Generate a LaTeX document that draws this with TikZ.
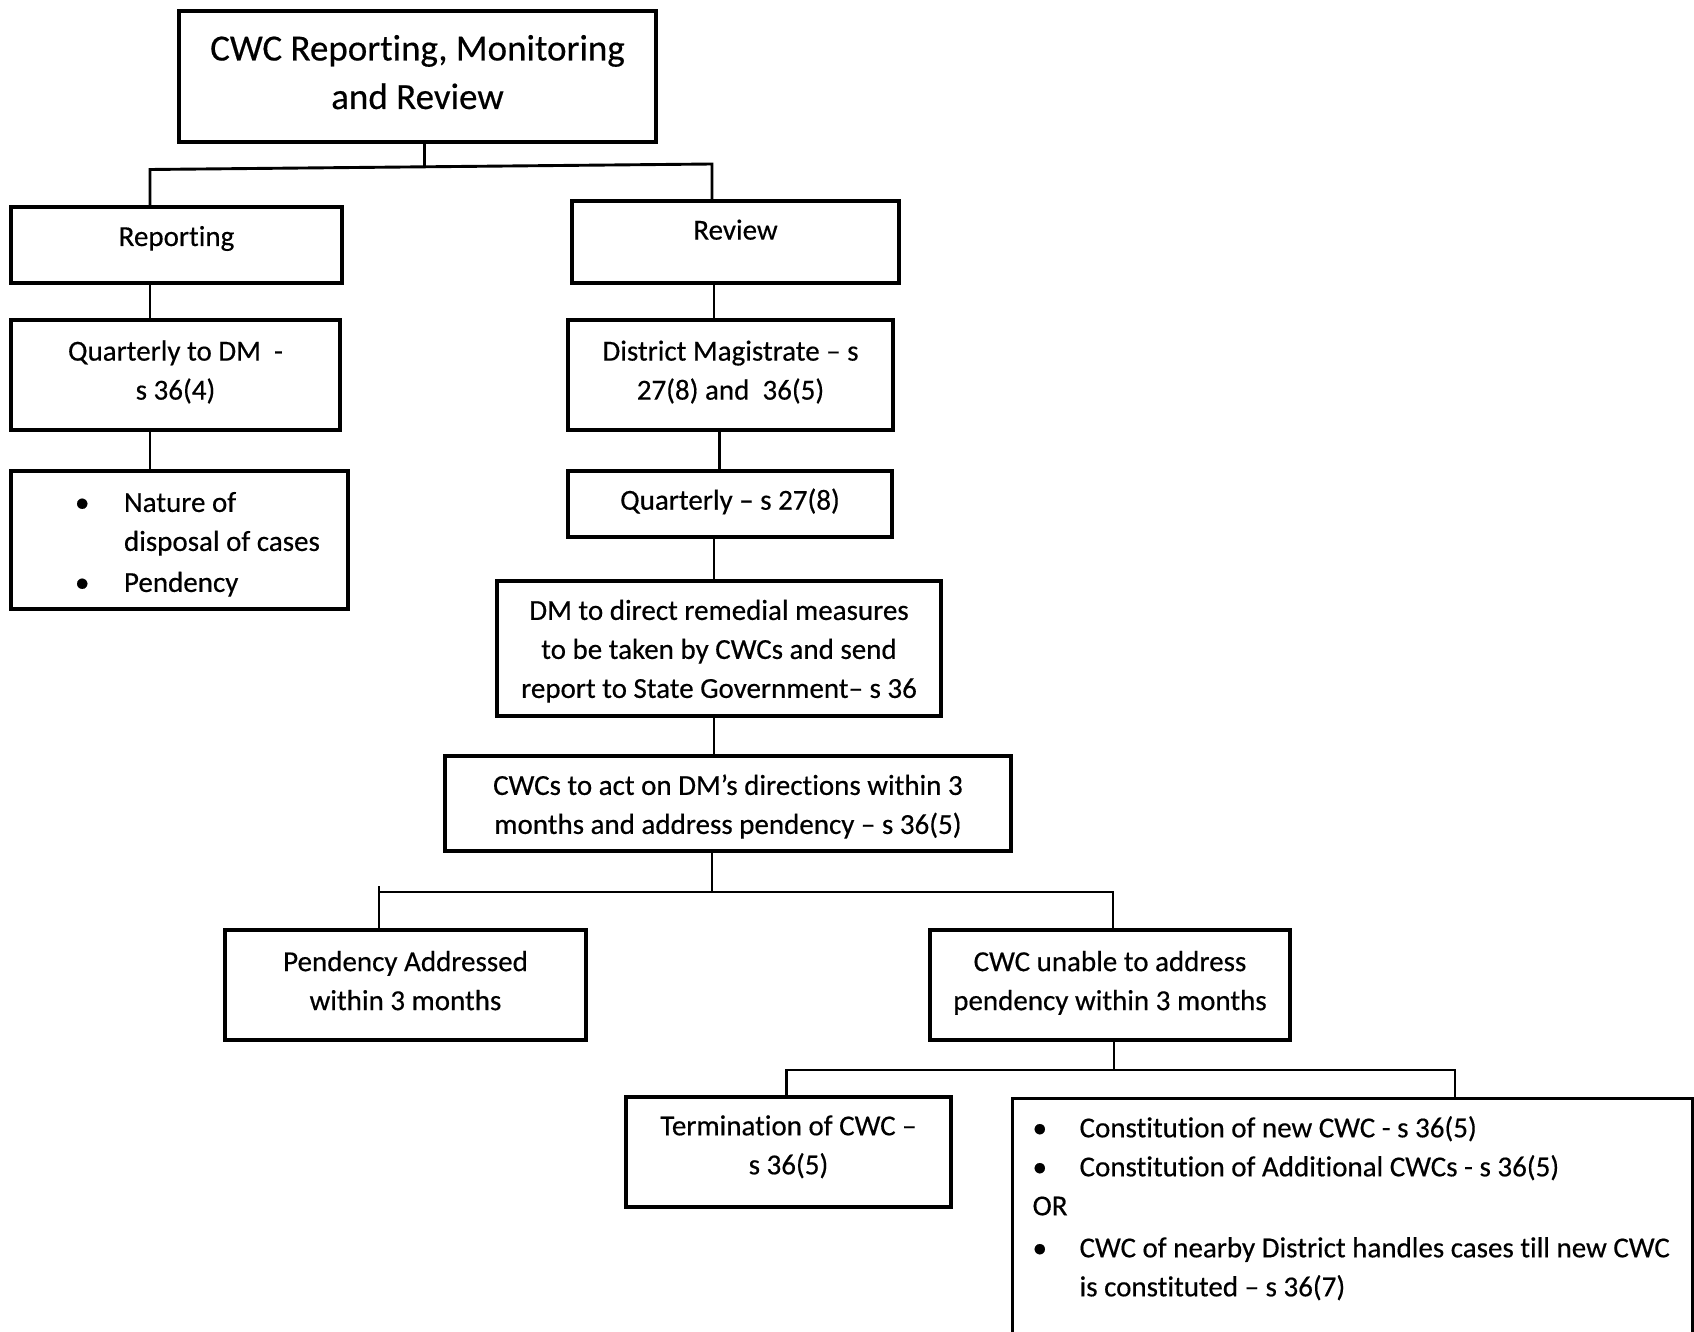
\documentclass[tikz,border=0pt]{standalone}
\usepackage{fontspec}
\setmainfont{Carlito}[FakeBold=0.4, Ligatures={TeX,NoCommon}]
\newcommand\bodyf{\fontsize{29}{39}\selectfont}
\newcommand\titlef{\fontsize{37}{48.5}\selectfont}
\newcommand\bul[1]{\makebox[#1][l]{\textbullet}}
% first-line baseline placed #1 above the node centre
\newcommand\tb[2]{\raisebox{#1}[0pt][0pt]{\begin{tabular}[t]{@{}c@{}}#2\end{tabular}}}
\begin{document}
\begin{tikzpicture}[x=1pt,y=-1pt,
  box/.style={draw, line width=3.2pt, align=center, font=\bodyf, inner sep=0pt},
  conn/.style={line width=2.9pt}]
\useasboundingbox (0,0) rectangle (1694,1332);
\fill[white] (0,0) rectangle (1694,1332);
\clip (0,0) rectangle (1694,1332);

% boxes
\node[box, font=\titlef, minimum width=477, minimum height=131] (title) at (417.5,76.5) {\tb{16pt}{CWC Reporting, Monitoring\\and Review}};
\node[box, minimum width=331, minimum height=76] (rep) at (176.5,245) {\tb{-1pt}{Reporting}};
\node[box, minimum width=327, minimum height=82] (rev) at (735.5,242) {\tb{2.4pt}{Review}};
\node[box, minimum width=329, minimum height=110] (qdm) at (175.5,375) {\tb{14.4pt}{Quarterly to DM\ \ -\\s 36(4)}};
\node[box, minimum width=337, minimum height=138] (bull) at (179.5,540)
  {\makebox[337pt][l]{\hspace*{64pt}\raisebox{28.1pt}[0pt][0pt]{\begin{tabular}[t]{@{}l@{}}\bul{49pt}Nature of\\\hspace*{49pt}disposal of cases\\[2pt]\bul{49pt}Pendency\end{tabular}}}};
\node[box, minimum width=325, minimum height=110] (dm) at (730.5,375) {\tb{14.4pt}{District Magistrate -- s\\27(8) and\ \ 36(5)}};
\node[box, minimum width=324, minimum height=66] (q27) at (730,504) {\tb{-5.7pt}{Quarterly -- s 27(8)}};
\node[box, minimum width=444, minimum height=135] (dmd) at (719,648.5) {\tb{28.6pt}{DM to direct remedial measures\\to be taken by CWCs and send\\report to State Government-- s 36}};
\node[box, minimum width=566, minimum height=95] (act) at (728,803.5) {\tb{8.6pt}{CWCs to act on DM’s directions within 3\\months and address pendency -- s 36(5)}};
\node[box, minimum width=361, minimum height=110] (pa) at (405.5,985) {\tb{13.9pt}{Pendency Addressed\\within 3 months}};
\node[box, minimum width=360, minimum height=110] (cu) at (1110,985) {\tb{13.9pt}{CWC unable to address\\pendency within 3 months}};
\node[box, minimum width=325, minimum height=110] (term) at (788.5,1152) {\tb{16.7pt}{Termination of CWC --\\s 36(5)}};
\node[box, anchor=north west, text width=680, align=left, inner ysep=17.5pt] (big) at (1011,1097)
  {\spaceskip=0pt\xspaceskip=0pt
   \hspace*{20pt}\bul{47pt}Constitution of new CWC - s 36(5)\\
   \hspace*{20pt}\bul{47pt}Constitution of Additional CWCs - s 36(5)\\
   \hspace*{20pt}OR\\[3pt]
   \hspace*{20pt}\bul{47pt}CWC of nearby District handles cases till new CWC\\
   \hspace*{67pt}is constituted -- s 36(7)\\ \mbox{}\\ \mbox{}\\ \mbox{}};

% junction coordinates
\coordinate (j1) at (424.6,166.8);
\coordinate (j1l) at (150,169.5);
\coordinate (j1r) at (712,164);
\coordinate (xr) at (714,0);
\coordinate (xr2) at (719.5,0);
\coordinate (j2) at (712,892);
\coordinate (j2l) at (379,892);
\coordinate (j2r) at (1113,892);
\coordinate (j3) at (1114,1070);
\coordinate (j3l) at (786.5,1070);
\coordinate (j3r) at (1455,1070);

% connectors
\draw[conn] (title.south -| j1) -- (j1);
\draw[conn] (rep.north -| j1l) -- (j1l) -- (j1r) -- (rev.north -| j1r);
\draw[conn] (rep.south -| j1l) -- (qdm.north -| j1l);
\draw[conn] (qdm.south -| j1l) -- (bull.north -| j1l);
\draw[conn] (rev.south -| xr) -- (dm.north -| xr);
\draw[conn] (dm.south -| xr2) -- (q27.north -| xr2);
\draw[conn] (q27.south -| xr) -- (dmd.north -| xr);
\draw[conn] (dmd.south -| xr) -- (act.north -| xr);
\draw[conn] (act.south -| j2) -- (j2);
\draw[conn] (pa.north -| j2l) -- ([yshift=6pt]j2l);
\draw[conn] (j2l) -- (j2r) -- (cu.north -| j2r);
\draw[conn] (cu.south -| j3) -- (j3);
\draw[conn] (term.north -| j3l) -- (j3l) -- (j3r) -- (big.north -| j3r);
\end{tikzpicture}
\end{document}
